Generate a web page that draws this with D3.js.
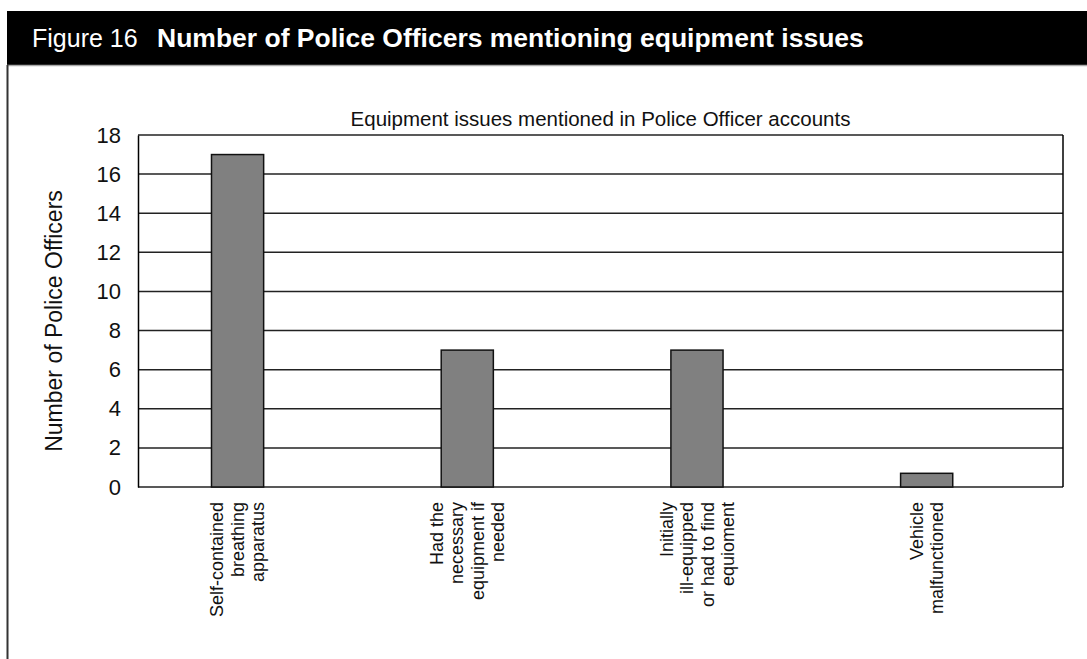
<html>
<head>
  <style type="text/css">
    body { margin: 0; background: #fff; }
    text { font-family: "Liberation Sans", Arial, sans-serif; }
  </style>
</head>
<body>
  <div id="viz"></div>
  <script src="https://cdnjs.cloudflare.com/ajax/libs/d3/7.8.5/d3.min.js"></script>
  <script>
  // chart data
  const categories = ['SCBA', 'Had equipment', 'Ill-equipped', 'Vehicle'];
  const labelLines = [
    ['Self-contained', 'breathing', 'apparatus'],
    ['Had the', 'necessary', 'equipment if', 'needed'],
    ['Initially', 'ill-equipped', 'or had to find', 'equioment'],
    ['Vehicle', 'malfunctioned']
  ];
  const values = [17, 7, 7, 0.7];
  const yTicks = [0, 2, 4, 6, 8, 10, 12, 14, 16, 18];

  const W = 1087, H = 659;
  const plot = { left: 138, right: 1063, top: 135, bottom: 487 };

  const svg = d3.select('#viz').append('svg')
    .attr('width', W)
    .attr('height', H);

  // header bar
  svg.append('rect')
    .attr('x', 7).attr('y', 11)
    .attr('width', W - 7).attr('height', 54)
    .attr('fill', '#000');
  svg.append('line')
    .attr('x1', 7).attr('x2', W)
    .attr('y1', 65.5).attr('y2', 65.5)
    .attr('stroke', '#aaa').attr('stroke-width', 1.5);
  svg.append('line')
    .attr('x1', 7.5).attr('x2', 7.5)
    .attr('y1', 65).attr('y2', H)
    .attr('stroke', '#333').attr('stroke-width', 2);

  const title = svg.append('text')
    .attr('x', 32).attr('y', 47)
    .attr('fill', '#fff')
    .style('font-size', '25px');
  title.append('tspan').text('Figure 16');
  title.append('tspan').attr('x', 157)
    .style('font-weight', 'bold')
    .style('font-size', '26.5px')
    .text('Number of Police Officers mentioning equipment issues');

  // scales
  const y = d3.scaleLinear()
    .domain([0, 18])
    .range([plot.bottom, plot.top]);

  const x = d3.scaleBand()
    .domain(categories)
    .range([plot.left, plot.right])
    .paddingInner(0.773)
    .paddingOuter(0.4)
    .align(0.4);

  // gridlines
  svg.append('g')
    .selectAll('line').data(yTicks)
    .enter().append('line')
      .attr('x1', plot.left).attr('x2', plot.right)
      .attr('y1', d => y(d)).attr('y2', d => y(d))
      .attr('stroke', '#222')
      .attr('stroke-width', 1.5);

  // y axis
  const yAxis = d3.axisLeft(y)
    .tickValues(yTicks)
    .tickSize(0)
    .tickPadding(17);
  const yGuide = svg.append('g')
    .attr('transform', 'translate(' + plot.left + ',0)')
    .call(yAxis);
  yGuide.select('.domain').attr('stroke', '#000').attr('stroke-width', 1.5);
  yGuide.selectAll('text')
    .style('font-family', '"Liberation Sans", Arial, sans-serif')
    .style('font-size', '22px')
    .attr('fill', '#111');

  // right border
  svg.append('line')
    .attr('x1', plot.right).attr('x2', plot.right)
    .attr('y1', plot.top).attr('y2', plot.bottom)
    .attr('stroke', '#000').attr('stroke-width', 1.5);

  // bars
  svg.append('g')
    .selectAll('rect').data(values)
    .enter().append('rect')
      .attr('x', (d, i) => x(categories[i]))
      .attr('y', d => y(d))
      .attr('width', x.bandwidth())
      .attr('height', d => y(0) - y(d))
      .attr('fill', '#808080')
      .attr('stroke', '#111')
      .attr('stroke-width', 1.5);

  // x labels
  const lineH = 20.5;
  const xLabels = svg.append('g')
    .selectAll('g').data(labelLines)
    .enter().append('g')
      .attr('transform', (d, i) =>
        'translate(' + (x(categories[i]) + x.bandwidth() / 2) + ',502) rotate(-90)');
  xLabels.selectAll('text')
    .data(d => d.map((t, j) => ({ t: t, off: (j - (d.length - 1) / 2) * lineH })))
    .enter().append('text')
      .attr('x', 0)
      .attr('y', d => d.off)
      .attr('dy', '0.35em')
      .attr('text-anchor', 'end')
      .style('font-size', '18px')
      .attr('fill', '#111')
      .text(d => d.t);

  // chart subtitle
  svg.append('text')
    .attr('x', (plot.left + plot.right) / 2)
    .attr('y', 126)
    .attr('text-anchor', 'middle')
    .style('font-size', '20.5px')
    .attr('fill', '#111')
    .text('Equipment issues mentioned in Police Officer accounts');

  // y axis title
  svg.append('text')
    .attr('transform', 'translate(54,' + ((plot.top + plot.bottom) / 2 + 10) + ') rotate(-90)')
    .attr('text-anchor', 'middle')
    .attr('dy', '0.35em')
    .style('font-size', '23px')
    .attr('fill', '#111')
    .text('Number of Police Officers');
  </script>
</body>
</html>
